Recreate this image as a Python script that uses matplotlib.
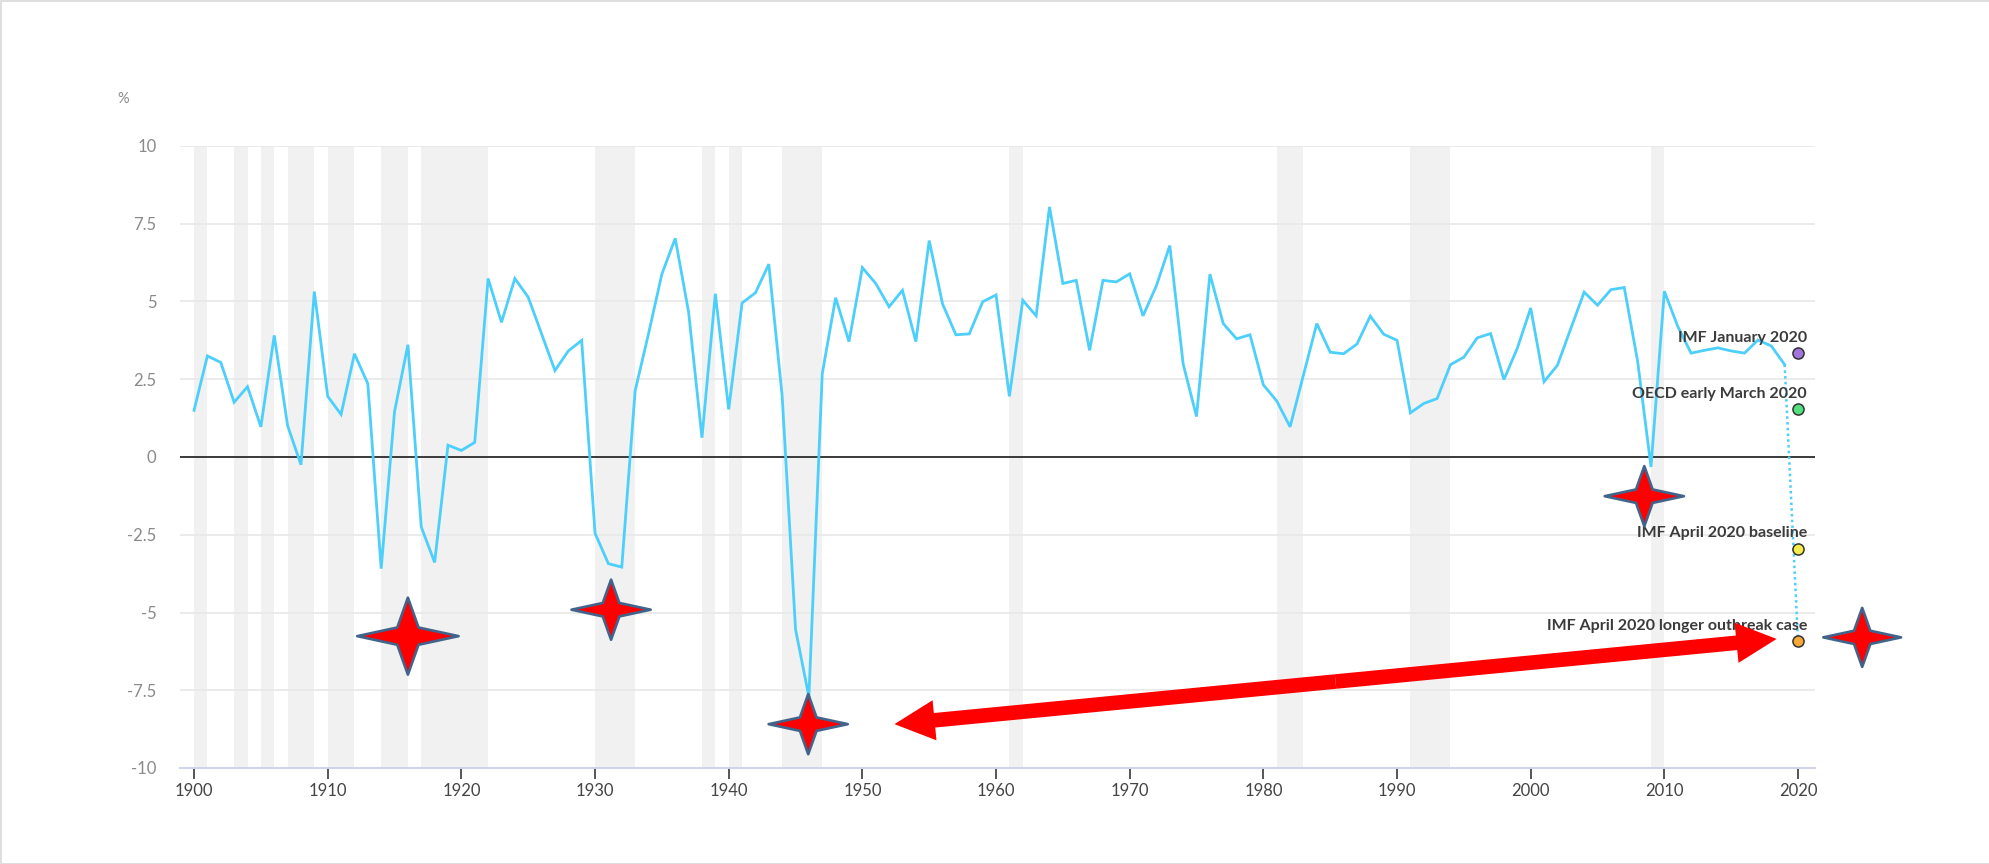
"""
World GDP growth since 1900, with 2020 forecasts and annotations.
"""

import matplotlib
matplotlib.use("Agg")
import matplotlib.pyplot as plt
from matplotlib.patches import FancyArrowPatch
from matplotlib.path import Path

# ── Data ──
years = list(range(1900, 2020))
growth = [
    1.50, 3.25, 3.04, 1.76, 2.26, 0.97, 3.91, 1.01, -0.25, 5.32,   # 1900s
    1.95, 1.37, 3.32, 2.36, -3.59, 1.46, 3.61, -2.25, -3.39, 0.38,  # 1910s
    0.21, 0.47, 5.74, 4.33, 5.74, 5.14, 3.96, 2.78, 3.41, 3.75,     # 1920s
    -2.45, -3.43, -3.54, 2.13, 3.96, 5.88, 7.03, 4.66, 0.62, 5.25,  # 1930s
    1.53, 4.95, 5.28, 6.20, 1.96, -5.54, -7.71, 2.68, 5.12, 3.71,   # 1940s
    6.09, 5.58, 4.83, 5.36, 3.71, 6.96, 4.92, 3.93, 3.96, 4.99,     # 1950s
    5.21, 1.95, 5.04, 4.54, 8.04, 5.58, 5.68, 3.43, 5.68, 5.63,     # 1960s
    5.89, 4.54, 5.51, 6.80, 2.99, 1.30, 5.88, 4.29, 3.80, 3.93,     # 1970s
    2.32, 1.80, 0.97, 2.64, 4.29, 3.37, 3.32, 3.63, 4.53, 3.95,     # 1980s
    3.75, 1.42, 1.72, 1.88, 2.97, 3.21, 3.83, 3.97, 2.49, 3.50,     # 1990s
    4.79, 2.42, 2.95, 4.13, 5.30, 4.88, 5.38, 5.45, 3.08, -0.32,    # 2000s
    5.33, 4.20, 3.34, 3.43, 3.51, 3.41, 3.34, 3.76, 3.57, 2.97,     # 2010s
]

recessions = [
    (1900, 1901), (1903, 1904), (1905, 1906), (1907, 1909), (1910, 1912),
    (1914, 1916), (1917, 1922), (1930, 1933), (1938, 1939), (1940, 1941),
    (1944, 1947), (1961, 1962), (1981, 1983), (1991, 1994), (2009, 2010),
]

fc_year   = 2020
fc_labels = ["IMF January 2020", "OECD early March 2020",
             "IMF April 2020 baseline", "IMF April 2020 longer outbreak case"]
fc_values = [3.34, 1.54, -2.95, -5.93]
fc_colors = ["#a374dc", "#52e07e", "#f6ec4c", "#f7a938"]

# red "look here" stars and the double arrow drawn over the chart
star_x     = [1916.0, 1931.2, 1945.95, 2008.5, 2024.8]
star_y     = [-5.76, -4.91, -8.59, -1.26, -5.80]
star_width = [73, 57, 57, 57, 56]          # points, full width
arrow_from = (1952.4, -8.59)
arrow_to   = (2018.4, -5.85)

yticks = [-10, -7.5, -5, -2.5, 0, 2.5, 5, 7.5, 10]
ytick_labels = ["-10", "-7.5", "-5", "-2.5", "0", "2.5", "5", "7.5", "10"]
xticks = list(range(1900, 2021, 10))

# ── Style ──
LINE_C  = "#4ccffa"
BAND_C  = "#f1f1f1"
GRID_C  = "#e9e9e9"
STAR_EC = "#41648c"
plt.rcParams["font.family"] = ["Lato", "DejaVu Sans"]

W, H = 1990, 864
fig = plt.figure(figsize=(W / 100, H / 100), dpi=100)
fig.patch.set_facecolor("white")
fig.patch.set_edgecolor("#dedede")
fig.patch.set_linewidth(2)

ax = fig.add_axes([180 / W, (H - 768) / H, (1815 - 180) / W, (768 - 146) / H])
ax.set_xlim(1898.95, 2021.27)
ax.set_ylim(-10, 10)

for a, b in recessions:
    ax.axvspan(a, b, color=BAND_C, lw=0, zorder=0)

for y in yticks:
    if y in (0, -10):
        continue
    ax.axhline(y, color=GRID_C, lw=1.3, zorder=1)
ax.axhline(0, color="#3a3a3a", lw=1.4, zorder=2)

ax.plot(years, growth, color=LINE_C, lw=2.0, zorder=3, solid_joinstyle="miter")
ax.plot([years[-1], fc_year], [growth[-1], min(fc_values)],
        color=LINE_C, lw=1.8, ls=(0, (1, 1.3)), zorder=3)

for lab, v, c in zip(fc_labels, fc_values, fc_colors):
    ax.plot(fc_year, v, "o", ms=8, mfc=c, mec="#333333", mew=1.1, zorder=5,
            clip_on=False)
    ax.annotate(lab, (fc_year, v), xytext=(6.5, 11), textcoords="offset points",
                ha="right", va="center", fontsize=11.5, fontweight="bold",
                color="#3b3b3b", zorder=6)

# ── 4-point stars ──
star_path = Path([(1, 0), (0.21, 0.17), (0, 0.76), (-0.21, 0.17), (-1, 0),
                  (-0.21, -0.17), (0, -0.76), (0.21, -0.17), (1, 0)],
                 closed=True)
ax.scatter(star_x, star_y, s=[w ** 2 for w in star_width], marker=star_path,
           facecolor="#ff0000", edgecolor=STAR_EC, linewidths=1.9, zorder=7,
           clip_on=False)

# ── double arrow (two filled halves from the middle) ──
mid = ((arrow_from[0] + arrow_to[0]) / 2, (arrow_from[1] + arrow_to[1]) / 2)
for tip in (arrow_from, arrow_to):
    ax.add_patch(FancyArrowPatch(
        mid, tip, arrowstyle="simple,head_length=29,head_width=29,tail_width=10.5",
        mutation_scale=1, color="#ff0000", lw=0, shrinkA=0, shrinkB=0, zorder=8))

# ── Axes cosmetics ──
for side in ("top", "left", "right"):
    ax.spines[side].set_visible(False)
ax.spines["bottom"].set_color("#cdd4ea")
ax.spines["bottom"].set_linewidth(1.4)

ax.set_xticks(xticks)
ax.set_xticklabels([str(x) for x in xticks])
ax.tick_params(axis="x", length=8, width=1.4, color="#555555", pad=3,
               labelsize=12, labelcolor="#444444")
ax.set_yticks(yticks)
ax.set_yticklabels(ytick_labels)
ax.tick_params(axis="y", length=0, pad=17, labelsize=12, labelcolor="#8a8a8a")

fig.text(123 / W, 1 - 99 / H, "%", ha="center", va="center",
         fontsize=10.5, color="#8a8a8a")

fig.savefig("out.png", dpi=100)
